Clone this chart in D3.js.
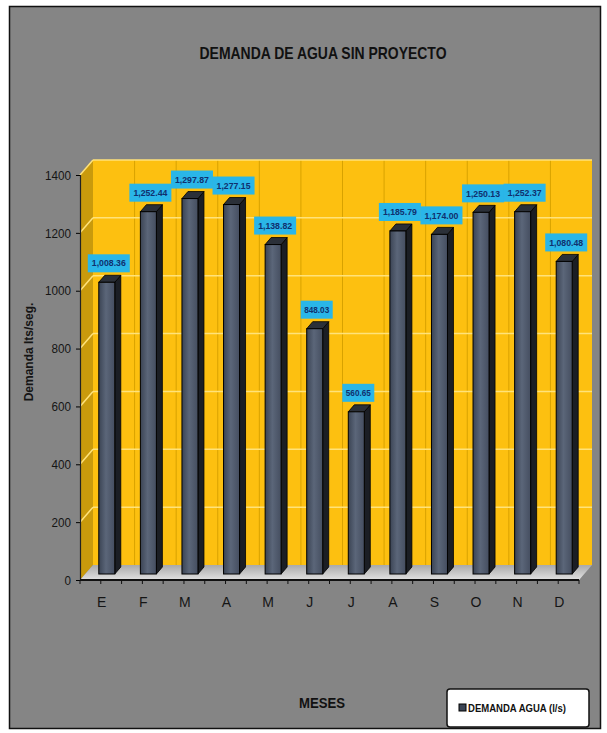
<!DOCTYPE html>
<html>
<head>
    <title>Demanda de agua sin proyecto</title>
    <script src="https://d3js.org/d3.v7.min.js"></script>
    <style>
        body { margin: 0; background: #fff; }
        text { font-family: "Liberation Sans Narrow", "Arial Narrow", "Liberation Sans", sans-serif; }
    </style>
</head>
<body>
    <div id="chart"></div>
    <script>
        // Chart data
        const meses = ["E", "F", "M", "A", "M", "J", "J", "A", "S", "O", "N", "D"];
        const demanda = [1008.36, 1252.44, 1297.87, 1277.15, 1138.82, 848.03, 560.65, 1185.79, 1174.00, 1250.13, 1252.37, 1080.48];
        const yTicks = [0, 200, 400, 600, 800, 1000, 1200, 1400];

        const W = 607, H = 733;
        const plot = { left: 80, right: 579, bottom: 580, top: 175 };
        const depth = { dx: 13, dy: -15 };   // 3D offset of the back wall
        const bar = { ox: 3, oy: -6, w: 16, dx: 6, dy: -7 };

        const svg = d3.select("#chart").append("svg")
            .attr("width", W).attr("height", H);

        const defs = svg.append("defs");
        const gFront = defs.append("linearGradient").attr("id", "barFront");
        gFront.append("stop").attr("offset", "0%").attr("stop-color", "#3b4454");
        gFront.append("stop").attr("offset", "45%").attr("stop-color", "#5b6679");
        gFront.append("stop").attr("offset", "100%").attr("stop-color", "#454e60");
        const gFloor = defs.append("linearGradient").attr("id", "floor")
            .attr("x1", 0).attr("y1", 0).attr("x2", 0).attr("y2", 1);
        gFloor.append("stop").attr("offset", "0%").attr("stop-color", "#a9a9a9");
        gFloor.append("stop").attr("offset", "100%").attr("stop-color", "#e2e2e2");

        // Background frame
        svg.append("rect").attr("x", 9.5).attr("y", 6.5)
            .attr("width", 591).attr("height", 722)
            .attr("fill", "#858585").attr("stroke", "#111").attr("stroke-width", 1.5);

        const x = d3.scaleBand().domain(d3.range(meses.length))
            .range([plot.left, plot.right]);
        const y = d3.scaleLinear().domain([0, 1400])
            .range([plot.bottom, plot.top]);

        // Back wall
        svg.append("rect")
            .attr("x", plot.left + depth.dx).attr("y", plot.top + depth.dy)
            .attr("width", plot.right - plot.left)
            .attr("height", plot.bottom - plot.top)
            .attr("fill", "#fdc010");

        // vertical gridlines on back wall
        svg.append("g").selectAll("line")
            .data(d3.range(1, meses.length))
            .join("line")
            .attr("x1", i => x(i) + depth.dx).attr("x2", i => x(i) + depth.dx)
            .attr("y1", y(1400) + depth.dy).attr("y2", y(0) + depth.dy)
            .attr("stroke", "#d8a200").attr("stroke-width", 1);

        // horizontal gridlines on back wall
        svg.append("g").selectAll("line")
            .data(yTicks.slice(1))
            .join("line")
            .attr("x1", plot.left + depth.dx).attr("x2", plot.right + depth.dx)
            .attr("y1", d => y(d) + depth.dy).attr("y2", d => y(d) + depth.dy)
            .attr("stroke", "#ffe27a").attr("stroke-width", 1.5);

        // Left wall
        svg.append("path")
            .attr("d", `M${plot.left},${plot.bottom} L${plot.left + depth.dx},${plot.bottom + depth.dy}
                L${plot.left + depth.dx},${plot.top + depth.dy} L${plot.left},${plot.top} Z`)
            .attr("fill", "#c99a0c");
        svg.append("g").selectAll("line")
            .data(yTicks.slice(1))
            .join("line")
            .attr("x1", plot.left).attr("y1", d => y(d))
            .attr("x2", plot.left + depth.dx).attr("y2", d => y(d) + depth.dy)
            .attr("stroke", "#ffe27a").attr("stroke-width", 1.5);

        // Floor
        svg.append("path")
            .attr("d", `M${plot.left},${plot.bottom} L${plot.right},${plot.bottom}
                L${plot.right + depth.dx},${plot.bottom + depth.dy} L${plot.left + depth.dx},${plot.bottom + depth.dy} Z`)
            .attr("fill", "url(#floor)");

        // Bars (front, side, top faces)
        const bars = svg.append("g").selectAll("g")
            .data(demanda)
            .join("g");
        const bx = (d, i) => x(i) + x.bandwidth() / 2 - 5 + bar.ox;
        const by = d => y(d) + bar.oy;
        const b0 = y(0) + bar.oy;

        bars.append("path")
            .attr("d", (d, i) => {
                const l = bx(d, i) + bar.w, t = by(d);
                return `M${l},${t} L${l + bar.dx},${t + bar.dy} L${l + bar.dx},${b0 + bar.dy} L${l},${b0} Z`;
            })
            .attr("fill", "#1b1e24").attr("stroke", "#000").attr("stroke-width", 0.8);
        bars.append("path")
            .attr("d", (d, i) => {
                const l = bx(d, i), t = by(d);
                return `M${l},${t} L${l + bar.dx},${t + bar.dy} L${l + bar.w + bar.dx},${t + bar.dy} L${l + bar.w},${t} Z`;
            })
            .attr("fill", "#2b3038").attr("stroke", "#000").attr("stroke-width", 0.8);
        bars.append("rect")
            .attr("x", bx).attr("y", by)
            .attr("width", bar.w).attr("height", d => b0 - by(d))
            .attr("fill", "url(#barFront)").attr("stroke", "#000").attr("stroke-width", 1);

        // Data labels
        const fmt = d3.format(",.2f");
        const labels = svg.append("g").selectAll("g")
            .data(demanda)
            .join("g")
            .attr("transform", (d, i) => `translate(${bx(d, i) + 10},${by(d) - 19})`);
        labels.append("rect")
            .attr("x", d => d >= 1000 ? -21 : -16).attr("y", -9)
            .attr("width", d => d >= 1000 ? 42 : 32).attr("height", 18)
            .attr("fill", "#2ab6e8");
        labels.append("text")
            .attr("text-anchor", "middle").attr("dy", "0.35em")
            .attr("font-size", 9).attr("font-weight", "bold")
            .attr("fill", "#10306e")
            .attr("textLength", d => d >= 1000 ? 34 : 25).attr("lengthAdjust", "spacingAndGlyphs")
            .text(d => fmt(d));

        // Axes
        const yAxis = svg.append("g")
            .attr("transform", `translate(${plot.left},0)`)
            .call(d3.axisLeft(y).tickValues(yTicks).tickSize(4).tickPadding(5)
                .tickFormat(d3.format("d")));
        yAxis.select(".domain").attr("stroke", "#222").attr("stroke-width", 1.2);
        yAxis.selectAll("text").attr("font-size", 13).attr("fill", "#151515")
            .attr("textLength", d => String(d).length * 6.5).attr("lengthAdjust", "spacingAndGlyphs");

        svg.append("line")
            .attr("x1", plot.left).attr("x2", plot.right)
            .attr("y1", plot.bottom).attr("y2", plot.bottom)
            .attr("stroke", "#111").attr("stroke-width", 1.8);
        const tickXs = d3.range(meses.length * 2 + 1).map(k => plot.left + k * x.bandwidth() / 2);
        svg.append("g").selectAll("line")
            .data(tickXs)
            .join("line")
            .attr("x1", d => d).attr("x2", d => d)
            .attr("y1", plot.bottom).attr("y2", plot.bottom + 4)
            .attr("stroke", "#111").attr("stroke-width", 1);

        svg.append("g").selectAll("text")
            .data(meses)
            .join("text")
            .attr("x", (d, i) => x(i) + x.bandwidth() / 2 + 1)
            .attr("y", 607)
            .attr("text-anchor", "middle")
            .attr("font-size", 14).attr("fill", "#151515")
            .text(d => d);

        // Titles
        svg.append("text")
            .attr("x", 323).attr("y", 59)
            .attr("text-anchor", "middle")
            .attr("font-size", 17).attr("font-weight", "bold").attr("fill", "#111")
            .attr("textLength", 247).attr("lengthAdjust", "spacingAndGlyphs")
            .text("DEMANDA DE AGUA SIN PROYECTO");

        svg.append("text")
            .attr("transform", "translate(33,352) rotate(-90)")
            .attr("text-anchor", "middle")
            .attr("font-size", 12).attr("font-weight", "bold").attr("fill", "#151515")
            .style("font-family", "'Liberation Sans', sans-serif")
            .text("Demanda  lts/seg.");

        svg.append("text")
            .attr("x", 322).attr("y", 708)
            .attr("text-anchor", "middle")
            .attr("font-size", 14).attr("font-weight", "bold").attr("fill", "#111")
            .attr("textLength", 46).attr("lengthAdjust", "spacingAndGlyphs")
            .text("MESES");

        // Legend
        const legend = svg.append("g").attr("transform", "translate(447,689)");
        legend.append("rect")
            .attr("width", 142).attr("height", 38).attr("rx", 3)
            .attr("fill", "#fff").attr("stroke", "#111").attr("stroke-width", 1.5);
        legend.append("rect")
            .attr("x", 12).attr("y", 15).attr("width", 7).attr("height", 7)
            .attr("fill", "#3b4454").attr("stroke", "#000");
        legend.append("text")
            .attr("x", 21).attr("y", 22.5)
            .attr("font-size", 10).attr("font-weight", "bold").attr("fill", "#111")
            .attr("textLength", 98).attr("lengthAdjust", "spacingAndGlyphs")
            .text("DEMANDA AGUA (l/s)");
    </script>
</body>
</html>
